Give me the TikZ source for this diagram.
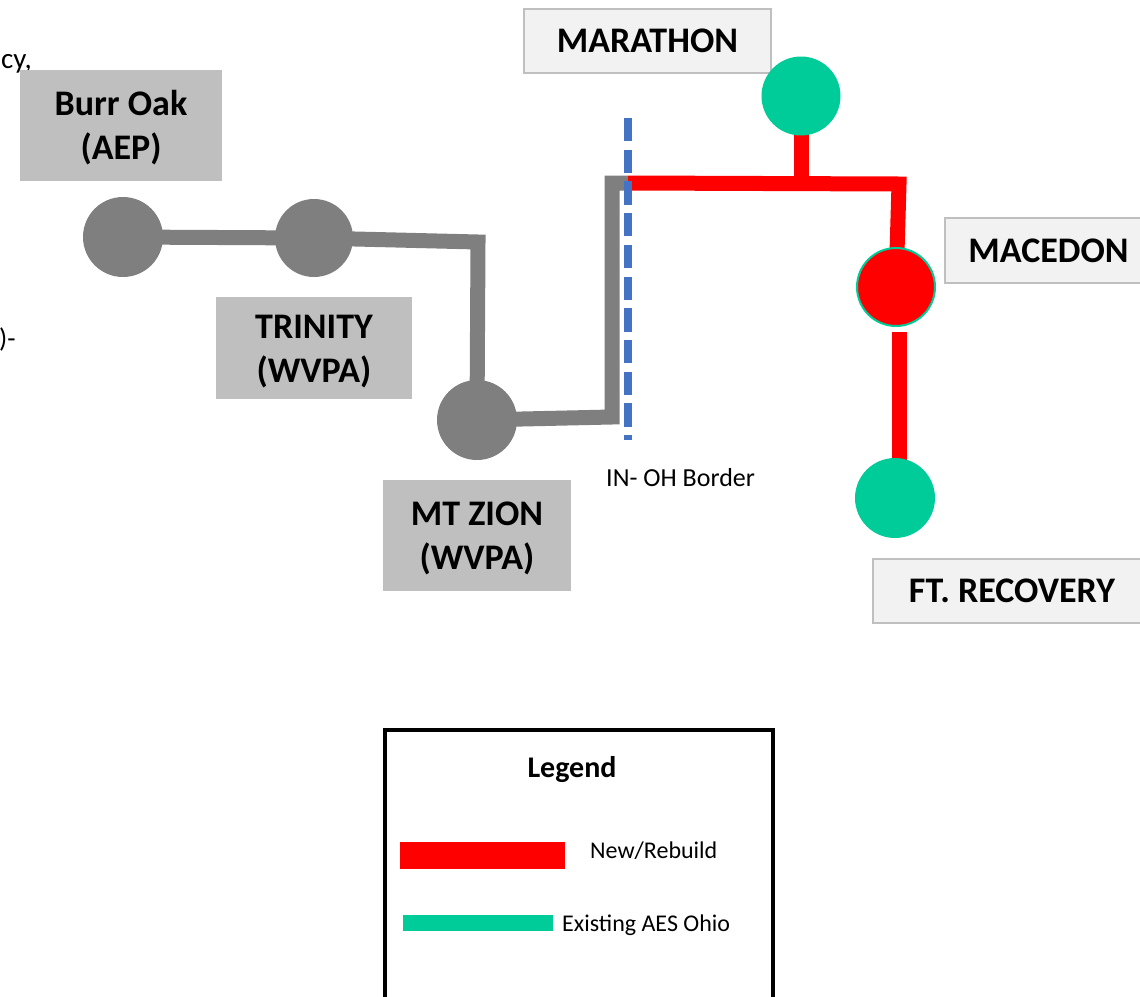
\documentclass[tikz,border=0pt]{standalone}
\usepackage{fontspec}
\setmainfont{Carlito}
\usetikzlibrary{backgrounds}
\definecolor{gline}{HTML}{7F7F7F}
\definecolor{lblgray}{HTML}{BFBFBF}
\definecolor{lightbox}{HTML}{F2F2F2}
\definecolor{aesgreen}{HTML}{00CC99}
\definecolor{bordblue}{HTML}{4472C4}
\definecolor{newred}{HTML}{FF0000}
\newcommand{\topstrut}{\rule{0pt}{30pt}}
\begin{document}
\begin{tikzpicture}[x=1pt,y=-1pt,
  graybox/.style={fill=lblgray, align=center, inner sep=0pt,
    font=\bfseries\fontsize{36}{44}\selectfont},
  lightlbl/.style={draw=lblgray, line width=2pt, fill=lightbox, inner sep=0pt,
    font=\bfseries\fontsize{36}{44}\selectfont},
  station/.style={circle, inner sep=0pt, minimum size=80pt},
  grayst/.style={station, fill=gline},
  greenst/.style={station, fill=aesgreen},
  redst/.style={station, fill=newred, draw=aesgreen, line width=2pt, minimum size=78pt},
  grayline/.style={draw=gline, line width=15pt, line join=miter},
  redline/.style={draw=newred, line width=15pt, line join=miter},
  smalltxt/.style={font=\fontsize{24}{29}\selectfont, inner sep=0pt},
]
\useasboundingbox (0,0) rectangle (1140,996);

% edge text fragments
\node[smalltxt, font=\fontsize{29}{33}\selectfont, anchor=base west] (frag1) at (1,68) {cy,};
\node[smalltxt, font=\fontsize{27}{31}\selectfont, anchor=base west] (frag2) at (-1,347) {)-};

% label boxes
\node[graybox, minimum width=202pt, minimum height=111pt] (lburr) at (121,125.5) {\topstrut Burr Oak\\(AEP)};
\node[graybox, minimum width=196pt, minimum height=102pt] (ltrin) at (314,348) {\topstrut TRINITY\\(WVPA)};
\node[graybox, minimum width=188pt, minimum height=111pt] (lmtz) at (477,535.5) {\topstrut MT ZION\\(WVPA)};
\node[lightlbl, minimum width=247pt, minimum height=64pt] (lmar) at (647.5,41) {MARATHON};
\node[lightlbl, minimum width=207pt, minimum height=65pt] (lmac) at (1048.5,250.5) {MACEDON};
\node[lightlbl, minimum width=278pt, minimum height=64pt] (lftr) at (1012,591) {FT. RECOVERY};

% stations
\node[grayst] (burr) at (123,237) {};
\node[grayst, minimum size=78pt] (trin) at (314,238) {};
\node[grayst] (mtz) at (477,420) {};
\node[greenst, minimum size=79pt] (mar) at (801,96) {};
\node[redst] (mac) at (896,287) {};
\node[greenst, minimum size=80pt] (ftr) at (895,498) {};

% bend points
\coordinate (gcorner) at (478,242);
\coordinate (gbot) at (612,417);
\coordinate (gtop) at (612,183);
\coordinate (bjoin) at (628,183);
\coordinate (rcorner) at (899,184);
\coordinate (macbot) at (899,332);
\coordinate (ftrtop) at (899,470);

\begin{pgfonlayer}{background}
  \draw[grayline] (burr.center) -- (trin.center);
  \draw[grayline] (trin.center) -- (gcorner) -- (mtz.center);
  \draw[grayline] (mtz.center) -- (gbot) -- (gtop) -- (bjoin);
  \draw[redline] (bjoin) -- (rcorner) -- (mac.center);
  \draw[redline] (mar.center) -- (mar |- rcorner);
  \draw[redline] (macbot) -- (ftrtop);
\end{pgfonlayer}

% IN-OH border
\coordinate (btop) at (628,118);
\coordinate (bbot) at (628,440);
\draw[bordblue, line width=8pt, dash pattern=on 23.3pt off 8.4pt] (btop) -- (bbot);
\node[smalltxt, font=\fontsize{26}{30}\selectfont, anchor=base west] (bordlbl) at (606,486) {IN- OH Border};

% legend
\draw[black, line width=4pt] (385,1010) -- (385,729.5) -- (773,729.5) -- (773,1010);
\node[font=\bfseries\fontsize{30}{36}\selectfont, inner sep=0pt, anchor=base] (legtitle) at (572,777) {Legend};
\fill[newred] (400,842) rectangle (565,869);
\fill[aesgreen] (403,915) rectangle (553,931);
\node[smalltxt, anchor=base west] (legnew) at (590,858) {New/Rebuild};
\node[smalltxt, anchor=base west] (legexist) at (562,931) {Existing AES Ohio};
\end{tikzpicture}
\end{document}
